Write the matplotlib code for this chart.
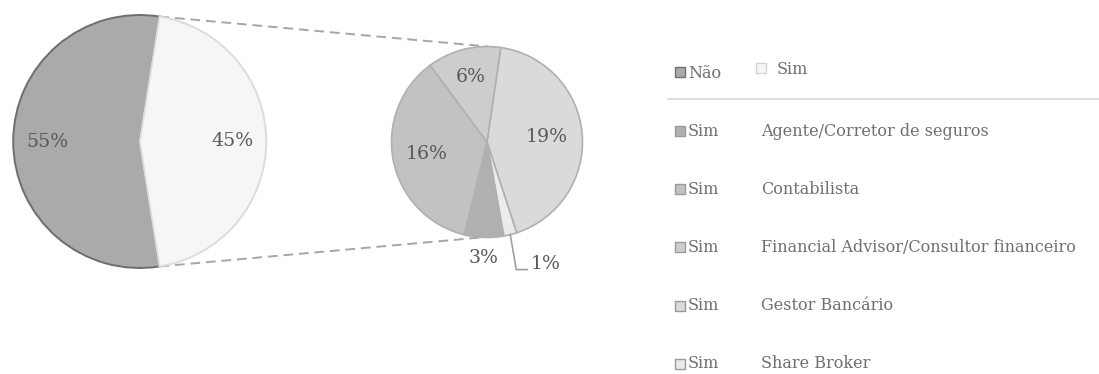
import numpy as np
import matplotlib
matplotlib.use("Agg")
import matplotlib.pyplot as plt
from matplotlib.patches import Rectangle

# ---- data ----
main_labels = ["Não", "Sim"]
main_values = [55, 45]
main_pct = ["55%", "45%"]

sub_order = ["Gestor Bancário", "Share Broker", "Agente/Corretor de seguros",
             "Contabilista", "Financial Advisor/Consultor financeiro"]
sub_values = [19.2, 1.0, 3.0, 16.2, 5.6]
sub_pct = ["19%", "1%", "3%", "16%", "6%"]

legend_cats = ["Agente/Corretor de seguros", "Contabilista",
               "Financial Advisor/Consultor financeiro", "Gestor Bancário",
               "Share Broker"]

# ---- styles ----
FONT = "DejaVu Serif"
PCT_FS = 13.6
LEG_FS = 11.5
main_colors = ["#aaaaaa", "#f6f6f6"]
main_edges = ["#6e6e6e", "#dcdcdc"]
sub_color_map = {
    "Agente/Corretor de seguros": "#b0b0b0",
    "Contabilista": "#c2c2c2",
    "Financial Advisor/Consultor financeiro": "#cdcdcd",
    "Gestor Bancário": "#dadada",
    "Share Broker": "#ebebeb",
}
W, H = 1099, 374

fig = plt.figure(figsize=(W / 100, H / 100), dpi=100)
ax = fig.add_axes([0, 0, 1, 1])

# main pie
mc = (139.7, H - 141.5)
mr = 126.5
wedges_m, _ = ax.pie(main_values, colors=main_colors, startangle=81,
                     center=mc, radius=mr, counterclock=True,
                     wedgeprops=dict(linewidth=1.4))
for w, ec in zip(wedges_m, main_edges):
    w.set_edgecolor(ec)
for w, t in zip(wedges_m, main_pct):
    ang = np.deg2rad((w.theta1 + w.theta2) / 2)
    ax.text(mc[0] + 0.73 * mr * np.cos(ang), mc[1] + 0.73 * mr * np.sin(ang), t,
            ha="center", va="center", fontsize=PCT_FS, color="#595959", family=FONT)

# sub pie
sc = (487.0, H - 142.0)
sr = 95.5
sub_colors = [sub_color_map[k] for k in sub_order]
wedges_s, _ = ax.pie(sub_values, colors=sub_colors, startangle=81.7,
                     center=sc, radius=sr, counterclock=False,
                     wedgeprops=dict(linewidth=1.2, edgecolor="#b0b0b0"))
label_dist = {"19%": 0.63, "16%": 0.64, "6%": 0.70, "3%": 1.22}
for w, t in zip(wedges_s, sub_pct):
    ang = np.deg2rad((w.theta1 + w.theta2) / 2)
    if t in label_dist:
        d = label_dist[t]
        ax.text(sc[0] + d * sr * np.cos(ang), sc[1] + d * sr * np.sin(ang), t,
                ha="center", va="center", fontsize=PCT_FS, color="#595959", family=FONT)
    else:
        # leader line label
        x0 = sc[0] + sr * np.cos(ang)
        y0 = sc[1] + sr * np.sin(ang)
        x1, y1 = x0 + 6, y0 - 35
        x2 = x1 + 11
        ax.plot([x0, x1, x2], [y0, y1, y1], color="#a0a0a0", lw=1.2)
        ax.text(x2 + 3, y1 + 6, t, ha="left", va="center", fontsize=PCT_FS,
                color="#595959", family=FONT)

# connector lines
for theta_main, theta_sub in [(81.0, 90.0), (-81.0, -93.0)]:
    a = np.deg2rad(theta_main)
    b = np.deg2rad(theta_sub)
    ax.plot([mc[0] + mr * np.cos(a), sc[0] + sr * np.cos(b)],
            [mc[1] + mr * np.sin(a), sc[1] + sr * np.sin(b)],
            color="#a6a6a6", lw=1.4, linestyle=(0, (5, 3)), zorder=0)

# legend
def square(x, y, fc, ec):
    ax.add_patch(Rectangle((x, y - 5), 10, 10, facecolor=fc, edgecolor=ec, lw=1.0))

leg_color = "#6f6f6f"
ly = H - 70
square(675, ly - 2, main_colors[0], "#707070")
ax.text(688, ly - 3, main_labels[0], fontsize=LEG_FS, color=leg_color, family=FONT, va="center")
square(756, ly + 2, main_colors[1], "#d4d4d4")
ax.text(777, ly + 1, main_labels[1], fontsize=LEG_FS, color=leg_color, family=FONT, va="center")
ax.plot([668, 1099], [H - 99, H - 99], color="#d9d9d9", lw=1.2)

row_y = [131, 189, 247, 306, 364]
for cat, yy in zip(legend_cats, row_y):
    y = H - yy
    square(675, y, sub_color_map[cat], "#9a9a9a")
    ax.text(688, y, "Sim", fontsize=LEG_FS, color=leg_color, family=FONT, va="center")
    ax.text(761, y, cat, fontsize=LEG_FS, color=leg_color, family=FONT, va="center")

ax.set_xlim(0, W)
ax.set_ylim(0, H)
ax.set_aspect("equal")
ax.axis("off")
fig.savefig("out.png", dpi=100)
